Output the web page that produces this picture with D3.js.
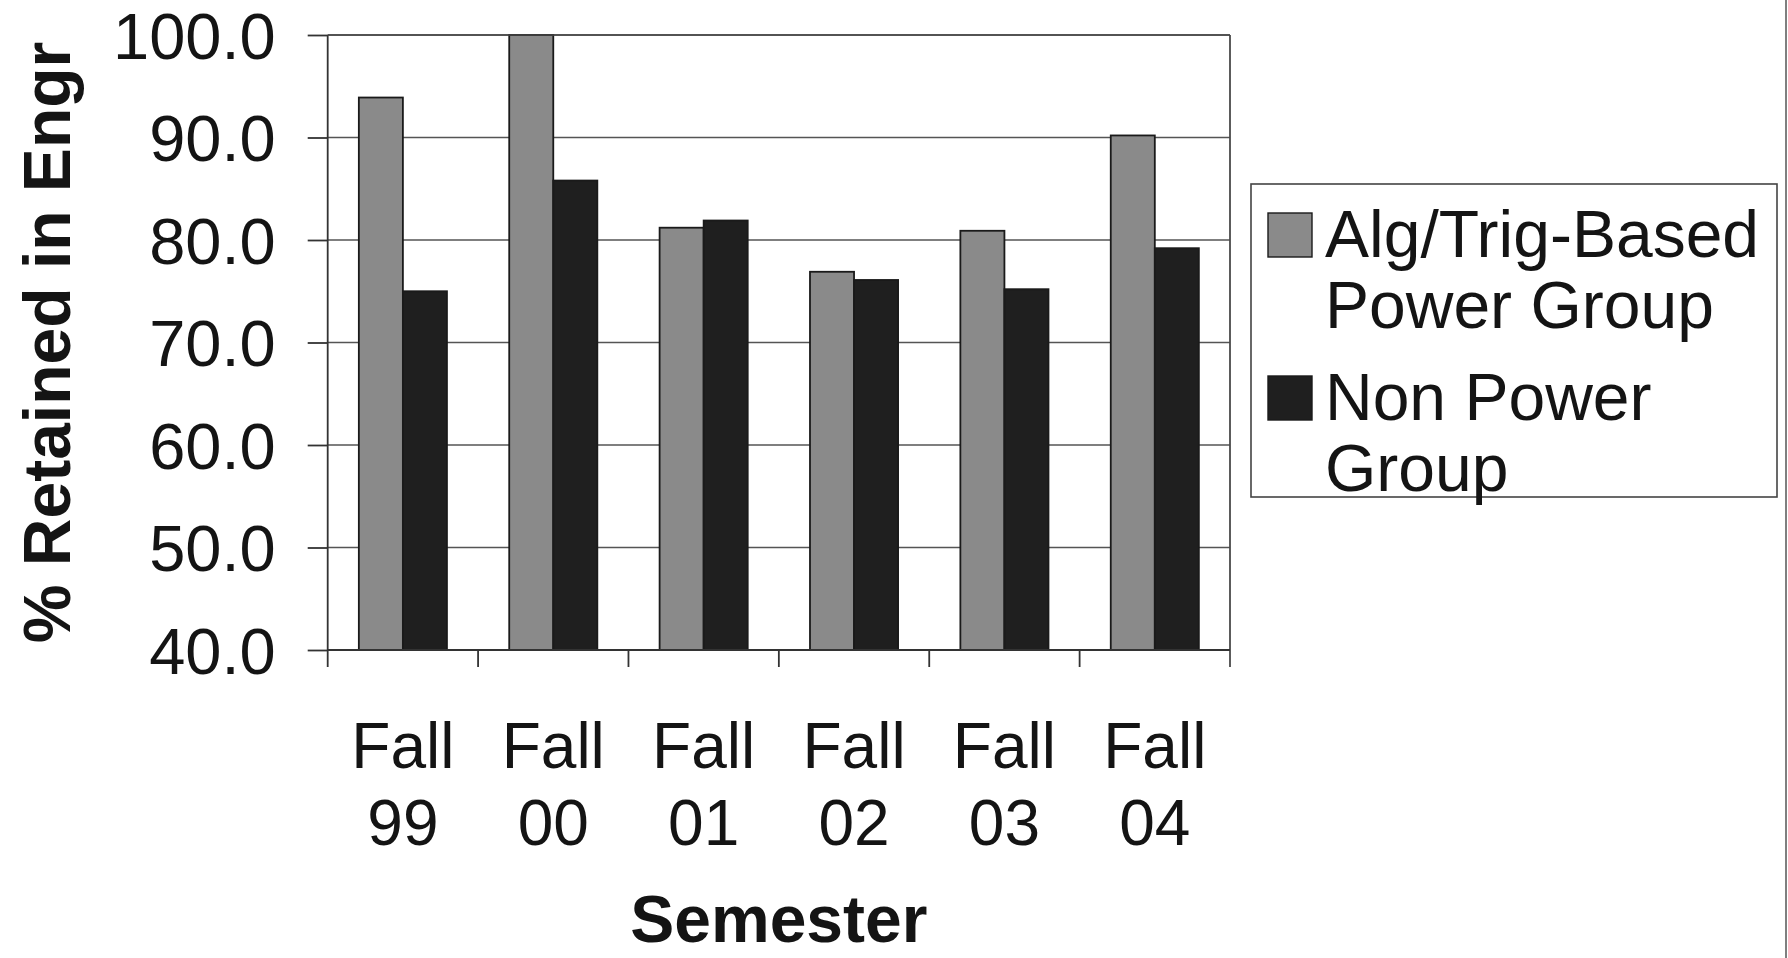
<!DOCTYPE html>
<html>
<head>
<meta charset="utf-8">
<script src="https://cdn.jsdelivr.net/npm/d3@7"></script>
<style>
  html, body { margin: 0; padding: 0; background: #fff; }
  svg { display: block; }
  text { font-family: "Liberation Sans", Arial, sans-serif; fill: #141414; }
</style>
</head>
<body>
<svg id="chart" width="1788" height="958"></svg>
<script>
// Retention in engineering by entering semester
const semesters = ["Fall 99", "Fall 00", "Fall 01", "Fall 02", "Fall 03", "Fall 04"];
const seriesNames = ["Alg/Trig-Based Power Group", "Non Power Group"];
const powerGroup = [93.9, 100.0, 81.2, 76.9, 80.9, 90.2];
const nonPowerGroup = [75.0, 85.8, 81.9, 76.1, 75.2, 79.2];
const yTicks = [40, 50, 60, 70, 80, 90, 100];
const legendLines = [["Alg/Trig-Based", "Power Group"], ["Non Power", "Group"]];

const seriesValues = [powerGroup, nonPowerGroup];
const seriesFill = ["#8a8a8a", "#1f1f1f"];

const svg = d3.select("#chart");
const plot = { left: 327.7, right: 1230, top: 35, bottom: 650 };

const x0 = d3.scaleBand().domain(semesters).range([plot.left, plot.right]).padding(0);
const x1 = d3.scaleBand().domain(seriesNames).range([0, x0.bandwidth()])
  .paddingInner(0).paddingOuter(0.707);
const y = d3.scaleLinear().domain([40, 100]).range([plot.bottom, plot.top]);

// horizontal gridlines
svg.append("g")
  .selectAll("line")
  .data(yTicks.filter(t => t > 40))
  .join("line")
  .attr("x1", plot.left).attr("x2", plot.right)
  .attr("y1", d => y(d)).attr("y2", d => y(d))
  .attr("stroke", "#555").attr("stroke-width", 1.6);

// right border of the plot area
svg.append("line")
  .attr("x1", plot.right).attr("x2", plot.right)
  .attr("y1", plot.top).attr("y2", plot.bottom + 17)
  .attr("stroke", "#4a4a4a").attr("stroke-width", 1.8);

// bars
const rows = semesters.map((s, i) => ({ s, vals: seriesNames.map((n, k) => ({ n, k, v: seriesValues[k][i] })) }));
const groups = svg.append("g").selectAll("g")
  .data(rows)
  .join("g")
  .attr("transform", d => `translate(${x0(d.s)},0)`);
groups.selectAll("rect")
  .data(d => d.vals)
  .join("rect")
  .attr("x", d => x1(d.n))
  .attr("width", x1.bandwidth())
  .attr("y", d => y(d.v))
  .attr("height", d => y(40) - y(d.v))
  .attr("fill", d => seriesFill[d.k])
  .attr("stroke", "#1a1a1a")
  .attr("stroke-width", 1.8);

// y axis
const yAxis = d3.axisLeft(y).tickValues(yTicks).tickFormat(d3.format(".1f"))
  .tickSize(20).tickPadding(32);
const gy = svg.append("g").attr("transform", `translate(${plot.left},0)`).call(yAxis);
gy.select(".domain").remove();
gy.selectAll(".tick line").attr("stroke", "#333").attr("stroke-width", 1.8);
gy.selectAll(".tick text")
  .attr("font-size", 65)
  .attr("dy", "0.36em")
  .style("font-family", "'Liberation Sans', Arial, sans-serif")
  .attr("fill", "#141414");
svg.append("line")
  .attr("x1", plot.left).attr("x2", plot.left)
  .attr("y1", plot.top).attr("y2", plot.bottom + 17)
  .attr("stroke", "#333").attr("stroke-width", 1.8);
// top border at 100
svg.append("line")
  .attr("x1", plot.left).attr("x2", plot.right)
  .attr("y1", y(100)).attr("y2", y(100))
  .attr("stroke", "#444").attr("stroke-width", 1.6);

// x axis: baseline and category dividers
svg.append("line")
  .attr("x1", plot.left).attr("x2", plot.right)
  .attr("y1", plot.bottom).attr("y2", plot.bottom)
  .attr("stroke", "#333").attr("stroke-width", 1.8);
svg.append("g").selectAll("line")
  .data(semesters.slice(1))
  .join("line")
  .attr("x1", d => x0(d)).attr("x2", d => x0(d))
  .attr("y1", plot.bottom).attr("y2", plot.bottom + 17)
  .attr("stroke", "#333").attr("stroke-width", 1.8);

// category labels on two lines
const xl = svg.append("g").selectAll("text")
  .data(semesters)
  .join("text")
  .attr("x", d => x0(d) + x0.bandwidth() / 2)
  .attr("text-anchor", "middle")
  .attr("font-size", 64);
xl.append("tspan").attr("x", d => x0(d) + x0.bandwidth() / 2).attr("y", 768).text(d => d.split(" ")[0]);
xl.append("tspan").attr("x", d => x0(d) + x0.bandwidth() / 2).attr("y", 845).text(d => d.split(" ")[1]);

// axis titles
svg.append("text")
  .attr("x", (plot.left + plot.right) / 2).attr("y", 942)
  .attr("text-anchor", "middle")
  .attr("font-size", 66).attr("font-weight", "bold")
  .text("Semester");
svg.append("text")
  .attr("transform", `translate(70,${(plot.top + plot.bottom) / 2}) rotate(-90)`)
  .attr("text-anchor", "middle")
  .attr("font-size", 66).attr("font-weight", "bold")
  .text("% Retained in Engr");

// legend
const legend = svg.append("g");
legend.append("rect")
  .attr("x", 1251).attr("y", 184).attr("width", 526).attr("height", 313)
  .attr("fill", "#fff").attr("stroke", "#444").attr("stroke-width", 1.6);
const itemTop = [257, 420];
seriesNames.forEach((n, k) => {
  legend.append("rect")
    .attr("x", 1268).attr("y", itemTop[k] - 44).attr("width", 44).attr("height", 44)
    .attr("fill", seriesFill[k]).attr("stroke", "#1a1a1a").attr("stroke-width", 1.4);
  const t = legend.append("text").attr("font-size", 66);
  legendLines[k].forEach((line, j) => {
    t.append("tspan").attr("x", 1325).attr("y", itemTop[k] + j * 71).text(line);
  });
});

// page edge rule on the right
svg.append("line")
  .attr("x1", 1786).attr("x2", 1786).attr("y1", 0).attr("y2", 958)
  .attr("stroke", "#555").attr("stroke-width", 1.5);
</script>
</body>
</html>
